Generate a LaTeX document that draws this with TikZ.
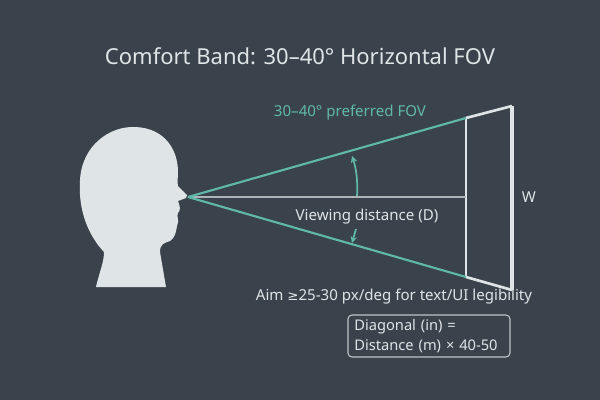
\documentclass[tikz,border=0pt]{standalone}
\usepackage{fontspec}
\setmainfont{Noto Sans}
\newfontfamily\dejafont{DejaVu Sans}
\usetikzlibrary{arrows.meta}
\definecolor{bg}{HTML}{3A434B}
\definecolor{teal}{HTML}{5FB8A8}
\definecolor{lite}{HTML}{DFE4E7}
\begin{document}
\begin{tikzpicture}[x=0.75pt,y=-0.75pt,
  ray/.style={teal,line width=1.6pt},
  lab/.style={text=lite,font=\fontsize{11.3}{13}\selectfont,inner sep=1pt},
  arr/.style={teal,line width=1.3pt,-{Stealth[length=5pt,width=5pt]}}]
\fill[bg] (0,0) rectangle (600,400);
\useasboundingbox (0,0) rectangle (600,400);
\node[text=lite,font=\fontsize{16.5}{19}\selectfont] (title) at (300,56) {Comfort Band: 30–40° Horizontal FOV};
% head
\fill[lite] (96,287) .. controls (100,270) and (104,262) .. (104,252)
  .. controls (88,235) and (78,210) .. (80,180)
  .. controls (82,145) and (110,126) .. (135,127)
  .. controls (165,128) and (178,150) .. (178,172)
  .. controls (178,178) and (177,182) .. (178,186)
  -- (187,195) -- (186,198) -- (178,201)
  .. controls (180,206) and (181,210) .. (178,213)
  .. controls (176,216) and (180,220) .. (177,226)
  .. controls (176,232) and (175,238) .. (170,241)
  .. controls (164,243) and (160,244) .. (160,252)
  -- (166,287) -- cycle;
\coordinate (eye) at (188,197);
\coordinate (st) at (466,118);
\coordinate (sb) at (466,277);
\coordinate (sm) at (466,197);
\coordinate (bt) at (512,106);
\coordinate (bb) at (512,290);
% screen
\draw[lite,line width=1.2pt] (st) -- (sb);
\draw[lite,line width=2pt] (st) -- (bt) (sb) -- (bb);
\draw[lite,line width=3.5pt] (bt) -- (bb);
\draw[lite!70!bg,line width=1pt] (eye) -- (sm);
\draw[ray] (eye) -- (st);
\draw[ray] (eye) -- (sb);
\coordinate (a1) at (357,196);
\coordinate (a2) at (352,156);
\draw[arr] (a1) .. controls (358,180) and (356,168) .. (a2);
\coordinate (b1) at (356,229);
\coordinate (b2) at (352,243);
\draw[arr] (b1) -- (b2);
\node[text=teal,font=\fontsize{11.3}{13}\selectfont] (fov) at (350,113) {30–40° preferred FOV};
\node[lab] (vd) at (367,217) {Viewing distance (D)};
\node[lab] (w) at (529,197) {W};
\node[lab] (aim) at (394,297) {Aim {\dejafont\fontsize{10}{12}\selectfont ≥}25-30 px/deg for text/UI legibility};
\node[draw=lite!80!bg,line width=0.8pt,rounded corners=3pt,minimum width=121.5pt,minimum height=31.5pt,
  text width=112pt,align=left,text=lite,font=\fontsize{11}{14.5}\selectfont] (box) at (429,336)
  {Diagonal (in) =\\Distance (m) × 40-50};
\end{tikzpicture}
\end{document}
